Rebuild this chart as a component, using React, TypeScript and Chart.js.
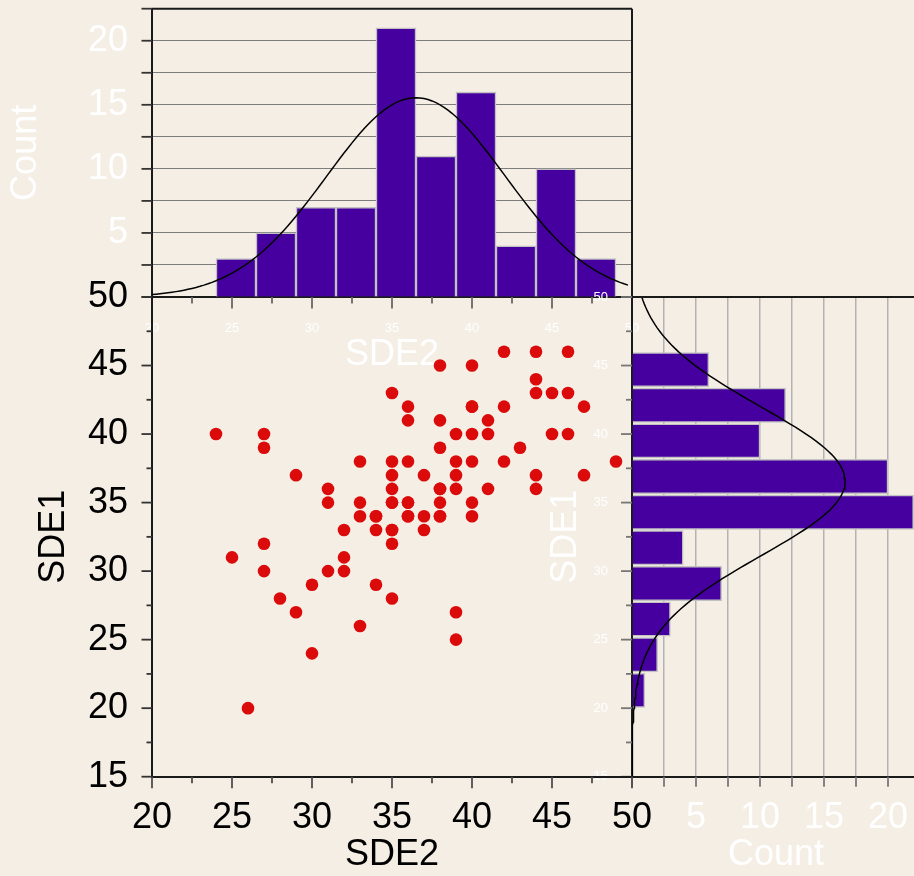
import React, { useEffect, useRef } from 'react';
import { Chart, registerables } from 'chart.js';

Chart.register(...registerables);

// ---------------- data ----------------
// scatter: SDE2 (x) vs SDE1 (y), 87 observations (some coincide)
const sde2 = [
  42, 44, 46,
  38, 40,
  44,
  35, 44, 45, 46,
  36, 40, 42, 47,
  36, 38, 41,
  24, 27, 39, 40, 41, 45, 46,
  27, 38, 43,
  33, 35, 36, 39, 40, 42, 49,
  29, 35, 37, 39, 44, 47,
  31, 35, 38, 39, 41, 44,
  31, 33, 35, 36, 38, 40,
  33, 34, 36, 37, 38, 40,
  32, 34, 35, 37,
  27, 35,
  25, 32,
  27, 31, 32,
  30, 34,
  28, 35,
  29, 39,
  33,
  39,
  30,
  26,
  35, 34, 35, 36, 36, 38, 38, 40,
];
const sde1 = [
  46, 46, 46,
  45, 45,
  44,
  43, 43, 43, 43,
  42, 42, 42, 42,
  41, 41, 41,
  40, 40, 40, 40, 40, 40, 40,
  39, 39, 39,
  38, 38, 38, 38, 38, 38, 38,
  37, 37, 37, 37, 37, 37,
  36, 36, 36, 36, 36, 36,
  35, 35, 35, 35, 35, 35,
  34, 34, 34, 34, 34, 34,
  33, 33, 33, 33,
  32, 32,
  31, 31,
  30, 30, 30,
  29, 29,
  28, 28,
  27, 27,
  26,
  25,
  24,
  20,
  35, 34, 33, 35, 34, 34, 36, 42,
];

// top histogram of SDE2
const topBinStart = 24;
const topBinWidth = 2.5;
const topCounts = [3, 5, 7, 7, 21, 11, 16, 4, 10, 3];
// right histogram of SDE1
const rightBinStart = 20;
const rightBinWidth = 2.6;
const rightCounts = [1, 2, 3, 7, 4, 22, 20, 10, 12, 6];

// fitted normal curves
const topFitMean = 36.5;
const topFitSd = 5.58;
const rightFitMean = 36.55;
const rightFitSd = 5.42;

// tick labels
const scatterXTickLabels = [20, 25, 30, 35, 40, 45, 50];
const scatterYTickLabels = [15, 20, 25, 30, 35, 40, 45, 50];
const countTickLabels = [5, 10, 15, 20];

// ---------------- layout / style ----------------
const W = 914;
const H = 876;
const PL = 152;
const PR = 632;
const PT = 297;
const PB = 776.7;
const TOP_T = 8.7;
const RIGHT_W = 920;
const FONT = "'Liberation Sans', Arial, Helvetica, sans-serif";
const BIG = 36;
const SMALL = 13;
const BAR = '#4600A0';
const BAR_EDGE = '#C2C2C2';
const AXIS = '#1a1a1a';

const isIn = (list: number[], v: number) => list.some((t) => Math.abs(t - v) < 1e-6);

function fitCurve(mean: number, sd: number, n: number, w: number, from: number, to: number, step: number) {
  const pts: number[][] = [];
  for (let v = from; v <= to + 1e-9; v += step) {
    const d = (n * w) / (sd * Math.sqrt(2 * Math.PI)) * Math.exp(-((v - mean) ** 2) / (2 * sd * sd));
    pts.push([v, d]);
  }
  return pts;
}

const manualTicks = {
  id: 'manualTicks',
  afterDraw(chart: any, _a: any, opts: any) {
    const items = opts && opts.items;
    if (!items) return;
    const ctx = chart.ctx;
    for (let k = 0; k < items.length; k++) {
      const it = items[k];
      const sc = chart.scales[it.axis];
      if (!sc) continue;
      ctx.save();
      ctx.strokeStyle = it.color;
      ctx.lineWidth = it.width;
      for (const t of sc.ticks) {
        const r = t.value / it.major;
        const major = Math.abs(r - Math.round(r)) < 1e-6;
        const len = major ? it.majorLen : it.minorLen;
        if (!len) continue;
        const p = sc.getPixelForValue(t.value);
        ctx.beginPath();
        if (sc.isHorizontal()) {
          ctx.moveTo(p, sc.top);
          ctx.lineTo(p, sc.top + len);
        } else {
          ctx.moveTo(sc.right, p);
          ctx.lineTo(sc.right - len, p);
        }
        ctx.stroke();
      }
      ctx.restore();
    }
  },
};

const framePlugin = {
  id: 'frame',
  afterDraw(chart: any, _a: any, opts: any) {
    if (!opts || !opts.on) return;
    const { left, right, top, bottom } = chart.chartArea;
    const ctx = chart.ctx;
    ctx.save();
    ctx.strokeStyle = AXIS;
    ctx.lineWidth = 2;
    ctx.beginPath();
    if (opts.top) {
      ctx.moveTo(left, top);
      ctx.lineTo(right, top);
    }
    if (opts.right) {
      ctx.moveTo(right, top);
      ctx.lineTo(right, bottom);
    }
    ctx.stroke();
    ctx.restore();
  },
};

const font = (size: number) => ({ family: FONT, size });

function topConfig(): any {
  const n = topCounts.reduce((a, b) => a + b, 0);
  const curve = fitCurve(topFitMean, topFitSd, n, topBinWidth, 20, 49.75, 0.25);
  return {
    type: 'bar',
    data: {
      datasets: [
        {
          type: 'line',
          data: curve.map(([x, y]) => ({ x, y })),
          borderColor: '#000',
          borderWidth: 1.5,
          pointRadius: 0,
          fill: false,
          tension: 0,
          order: 0,
        },
        {
          type: 'bar',
          data: topCounts.map((c, i) => ({ x: topBinStart + topBinWidth * (i + 0.5), y: c })),
          backgroundColor: BAR,
          borderColor: BAR_EDGE,
          borderWidth: 1.5,
          barPercentage: 1,
          categoryPercentage: 1,
          order: 1,
        },
      ],
    },
    options: {
      animation: false,
      responsive: false,
      events: [],
      layout: { padding: { left: 0, top: TOP_T, right: W - PR, bottom: H - PT - 100 } },
      plugins: {
        legend: { display: false },
        tooltip: { enabled: false },
        frame: { on: true, top: true, right: true },
        manualTicks: {
          items: [
            { axis: 'x', major: 5, majorLen: 11.5, minorLen: 6.5, color: '#666', width: 1.8 },
            { axis: 'y', major: 2.5, majorLen: 10.5, minorLen: 10.5, color: '#333', width: 1.8 },
          ],
        },
      },
      scales: {
        x: {
          type: 'linear',
          position: 'bottom',
          min: 20,
          max: 50,
          offset: false,
          afterFit: (s: any) => {
            s.height = 100;
            s.paddingLeft = 0;
            s.paddingRight = 0;
          },
          ticks: {
            stepSize: 2.5,
            autoSkip: false,
            maxRotation: 0,
            callback: (v: number) => (isIn(scatterXTickLabels, v) ? String(v) : ''),
            color: '#fff',
            font: font(SMALL),
            padding: 24,
          },
          grid: { display: false, drawTicks: false, offset: false },
          border: { display: true, color: AXIS, width: 2 },
          title: { display: true, text: 'SDE2', color: '#fff', font: font(BIG), padding: { top: 0, bottom: 20 } },
        },
        y: {
          type: 'linear',
          position: 'left',
          min: 0,
          max: 22.5,
          afterFit: (s: any) => {
            s.width = PL;
            s.paddingTop = 0;
            s.paddingBottom = 0;
          },
          ticks: {
            stepSize: 2.5,
            autoSkip: false,
            callback: (v: number) => (isIn(countTickLabels, v) ? String(v) : ''),
            color: '#fff',
            font: font(BIG),
            padding: 24,
          },
          grid: { display: true, drawOnChartArea: true, drawTicks: false, color: '#7d7d7d', lineWidth: 1 },
          border: { display: true, color: AXIS, width: 2 },
          title: { display: true, text: 'Count', color: '#fff', font: font(BIG), padding: { top: 4.4, bottom: 0 } },
        },
      },
    },
    plugins: [manualTicks, framePlugin],
  };
}

function rightConfig(): any {
  const n = rightCounts.reduce((a, b) => a + b, 0);
  const curve = fitCurve(rightFitMean, rightFitSd, n, rightBinWidth, 15, 50, 0.25);
  return {
    type: 'bar',
    data: {
      datasets: [
        {
          type: 'line',
          indexAxis: 'y',
          data: curve.map(([y, x]) => ({ x, y })),
          borderColor: '#000',
          borderWidth: 1.5,
          pointRadius: 0,
          fill: false,
          tension: 0,
          order: 0,
        },
        {
          type: 'bar',
          data: rightCounts.map((c, i) => ({ x: c, y: rightBinStart + rightBinWidth * (i + 0.5) })),
          backgroundColor: BAR,
          borderColor: BAR_EDGE,
          borderWidth: 1.5,
          barPercentage: 1,
          categoryPercentage: 1,
          order: 1,
        },
      ],
    },
    options: {
      indexAxis: 'y',
      animation: false,
      responsive: false,
      events: [],
      layout: { padding: { left: 0, top: PT, right: 0, bottom: 0 } },
      plugins: {
        legend: { display: false },
        tooltip: { enabled: false },
        frame: { on: true, top: true, right: false },
        manualTicks: {
          items: [
            { axis: 'x', major: 2.5, majorLen: 10, minorLen: 10, color: '#777', width: 1.8 },
            { axis: 'y', major: 5, majorLen: 11, minorLen: 6, color: '#777', width: 1.8 },
          ],
        },
      },
      scales: {
        x: {
          type: 'linear',
          position: 'bottom',
          min: 0,
          max: 22.5,
          afterFit: (s: any) => {
            s.height = H - PB;
            s.paddingLeft = 0;
            s.paddingRight = 0;
          },
          ticks: {
            stepSize: 2.5,
            autoSkip: false,
            maxRotation: 0,
            callback: (v: number) => (isIn(countTickLabels, v) ? String(v) : ''),
            color: '#fff',
            font: font(BIG),
            padding: 20,
          },
          grid: { display: true, drawOnChartArea: true, drawTicks: false, color: '#b3b3b3', lineWidth: 1.5 },
          border: { display: true, color: AXIS, width: 2 },
          title: { display: true, text: 'Count', color: '#fff', font: font(BIG), padding: { top: 0, bottom: -1 } },
        },
        y: {
          type: 'linear',
          position: 'left',
          min: 15,
          max: 50,
          offset: false,
          afterFit: (s: any) => {
            s.width = PR;
            s.paddingTop = 0;
            s.paddingBottom = 0;
          },
          ticks: {
            stepSize: 2.5,
            autoSkip: false,
            callback: (v: number) => (isIn(scatterYTickLabels, v) ? String(v) : ''),
            color: '#fff',
            font: font(SMALL),
            padding: 24,
          },
          grid: { display: false, drawTicks: false, offset: false },
          border: { display: true, color: AXIS, width: 2 },
          title: { display: true, text: 'SDE1', color: '#fff', font: font(BIG), padding: { top: 544.4, bottom: 0 } },
        },
      },
    },
    plugins: [manualTicks, framePlugin],
  };
}

function scatterConfig(): any {
  return {
    type: 'scatter',
    data: {
      datasets: [
        {
          data: sde2.map((x, i) => ({ x, y: sde1[i] })),
          backgroundColor: '#DC0B0B',
          borderWidth: 0,
          pointRadius: 6.3,
          pointHoverRadius: 6.3,
        },
      ],
    },
    options: {
      animation: false,
      responsive: false,
      events: [],
      layout: { padding: { left: 0, top: PT, right: W - PR, bottom: 0 } },
      plugins: {
        legend: { display: false },
        tooltip: { enabled: false },
        manualTicks: {
          items: [
            { axis: 'x', major: 5, majorLen: 11.5, minorLen: 6.5, color: '#4d4d4d', width: 1.8 },
            { axis: 'y', major: 5, majorLen: 10.5, minorLen: 5.5, color: '#333', width: 1.8 },
          ],
        },
      },
      scales: {
        x: {
          type: 'linear',
          position: 'bottom',
          min: 20,
          max: 50,
          afterFit: (s: any) => {
            s.height = H - PB;
            s.paddingLeft = 0;
            s.paddingRight = 0;
          },
          ticks: {
            stepSize: 2.5,
            autoSkip: false,
            maxRotation: 0,
            callback: (v: number) => (isIn(scatterXTickLabels, v) ? String(v) : ''),
            color: '#000',
            font: font(BIG),
            padding: 20,
          },
          grid: { display: false, drawTicks: false },
          border: { display: true, color: AXIS, width: 2 },
          title: { display: true, text: 'SDE2', color: '#000', font: font(BIG), padding: { top: 0, bottom: -1 } },
        },
        y: {
          type: 'linear',
          position: 'left',
          min: 15,
          max: 50,
          afterFit: (s: any) => {
            s.width = PL;
            s.paddingTop = 0;
            s.paddingBottom = 0;
          },
          ticks: {
            stepSize: 2.5,
            autoSkip: false,
            callback: (v: number) => (isIn(scatterYTickLabels, v) ? String(v) : ''),
            color: '#000',
            font: font(BIG),
            padding: 24,
          },
          grid: { display: false, drawTicks: false },
          border: { display: true, color: AXIS, width: 2 },
          title: { display: true, text: 'SDE1', color: '#000', font: font(BIG), padding: { top: 32.4, bottom: 0 } },
        },
      },
    },
    plugins: [manualTicks],
  };
}

export default function App() {
  const topRef = useRef<HTMLCanvasElement | null>(null);
  const rightRef = useRef<HTMLCanvasElement | null>(null);
  const scRef = useRef<HTMLCanvasElement | null>(null);

  useEffect(() => {
    const charts: Chart[] = [];
    if (topRef.current) charts.push(new Chart(topRef.current, topConfig()));
    if (rightRef.current) charts.push(new Chart(rightRef.current, rightConfig()));
    if (scRef.current) charts.push(new Chart(scRef.current, scatterConfig()));
    return () => charts.forEach((c) => c.destroy());
  }, []);

  const abs: React.CSSProperties = { position: 'absolute', left: 0, top: 0 };
  return (
    <div
      style={{
        position: 'absolute',
        left: 0,
        top: 0,
        width: W,
        height: H,
        overflow: 'hidden',
        background: '#F4EEE5',
      }}
    >
      <canvas ref={topRef} width={W} height={H} style={{ ...abs, width: W, height: H }} />
      <canvas ref={rightRef} width={RIGHT_W} height={H} style={{ ...abs, width: RIGHT_W, height: H }} />
      <canvas ref={scRef} width={W} height={H} style={{ ...abs, width: W, height: H }} />
    </div>
  );
}
